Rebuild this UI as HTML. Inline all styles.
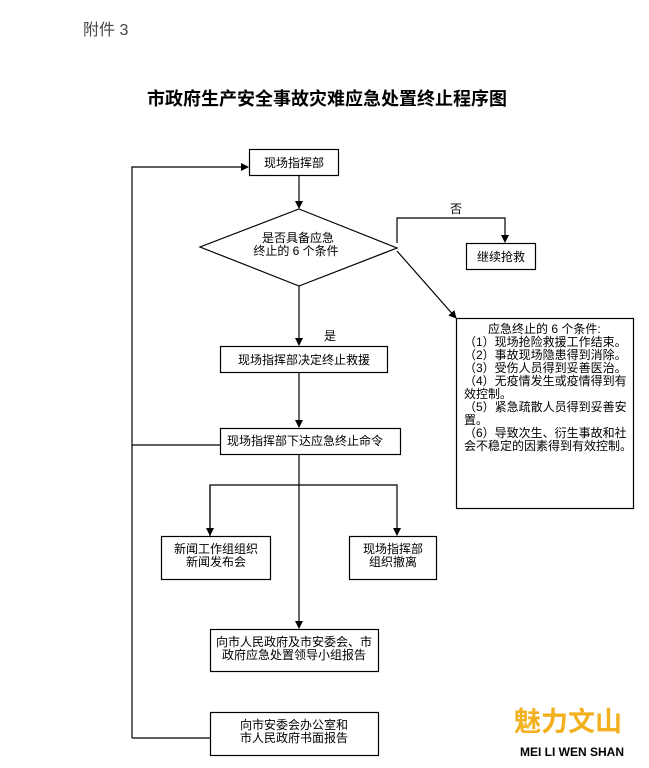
<!DOCTYPE html>
<html><head><meta charset="utf-8"><style>
html,body{margin:0;padding:0;background:#fff;}
svg{display:block;}
text{font-family:"Liberation Sans","Noto Sans CJK SC",sans-serif;fill:#000;}
</style></head><body>
<svg width="649" height="768" viewBox="0 0 649 768" xmlns="http://www.w3.org/2000/svg">
<defs><marker id="a" markerWidth="8" markerHeight="8" refX="7" refY="4" orient="auto" markerUnits="userSpaceOnUse"><path d="M0,0 L8,4 L0,8 z" fill="#000"/></marker></defs>
<text x="83" y="35" font-size="16" style="fill:#444">附件 3</text>
<text x="147" y="105" font-size="18" font-weight="bold">市政府生产安全事故灾难应急处置终止程序图</text>
<g stroke="#000" stroke-width="1.2" fill="none">
<rect x="249.5" y="149.5" width="89" height="26"/>
<polygon points="299,209 397,248 299,286 200,247"/>
<rect x="466.5" y="243.5" width="69" height="26"/>
<rect x="456.5" y="318.5" width="177" height="190"/>
<rect x="220.5" y="346.5" width="167" height="26"/>
<rect x="220.5" y="428.5" width="180" height="26"/>
<rect x="161.5" y="536.5" width="109" height="43"/>
<rect x="349.5" y="536.5" width="87" height="43"/>
<rect x="210.5" y="629.5" width="168" height="42"/>
<rect x="210.5" y="712.5" width="168" height="43"/>
<path d="M132,738 L132,167 L248,167" marker-end="url(#a)"/>
<path d="M220,445 L132,445"/>
<path d="M210,738 L132,738"/>
<path d="M299,176 L299,208" marker-end="url(#a)"/>
<path d="M397,243 L397,218 L505,218 L505,242" marker-end="url(#a)"/>
<path d="M397,251 L456,318" marker-end="url(#a)"/>
<path d="M299,286 L299,345" marker-end="url(#a)"/>
<path d="M299,373 L299,427" marker-end="url(#a)"/>
<path d="M299,455 L299,628" marker-end="url(#a)"/>
<path d="M299,485 L299,485"/>
<path d="M210,536 L210,485 L397,485 L397,535" marker-end="url(#a)"/>
<path d="M210,485 L210,535" marker-end="url(#a)"/>
</g>
<g font-size="12">
<text x="294" y="167" text-anchor="middle">现场指挥部</text>
<text x="298" y="242" text-anchor="middle">是否具备应急</text>
<text x="296" y="255" text-anchor="middle">终止的 6 个条件</text>
<text x="456" y="213" text-anchor="middle">否</text>
<text x="501" y="261" text-anchor="middle">继续抢救</text>
<text x="330" y="340" text-anchor="middle">是</text>
<text x="304" y="364" text-anchor="middle">现场指挥部决定终止救援</text>
<text x="305" y="445" text-anchor="middle">现场指挥部下达应急终止命令</text>
<text x="216" y="553" text-anchor="middle">新闻工作组组织</text>
<text x="216" y="566" text-anchor="middle">新闻发布会</text>
<text x="393" y="553" text-anchor="middle">现场指挥部</text>
<text x="393" y="566" text-anchor="middle">组织撤离</text>
<text x="294" y="646" text-anchor="middle">向市人民政府及市安委会、市</text>
<text x="294" y="659" text-anchor="middle">政府应急处置领导小组报告</text>
<text x="294" y="729" text-anchor="middle">向市安委会办公室和</text>
<text x="294" y="742" text-anchor="middle">市人民政府书面报告</text>
<text x="488" y="333">应急终止的 6 个条件:</text>
<text x="464" y="346">（1）现场抢险救援工作结束。</text>
<text x="464" y="359">（2）事故现场隐患得到消除。</text>
<text x="464" y="372">（3）受伤人员得到妥善医治。</text>
<text x="464" y="385">（4）无疫情发生或疫情得到有</text>
<text x="464" y="398">效控制。</text>
<text x="464" y="411">（5）紧急疏散人员得到妥善安</text>
<text x="464" y="424">置。</text>
<text x="464" y="437">（6）导致次生、衍生事故和社</text>
<text x="464" y="450">会不稳定的因素得到有效控制。</text>
</g>
<text x="514" y="731" font-size="27" font-weight="bold" style="fill:#f2b01e">魅力文山</text>
<text x="520" y="756" font-size="12" font-weight="bold">MEI LI WEN  SHAN</text>
</svg>
</body></html>
